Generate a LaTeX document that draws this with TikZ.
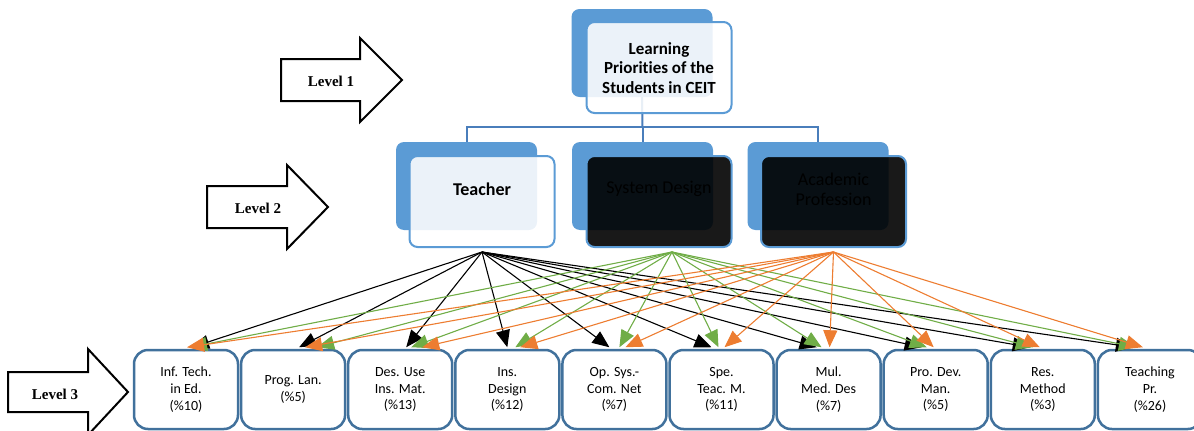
\documentclass[tikz,border=0pt]{standalone}
\usepackage{fontspec}
\setmainfont{Carlito}[RawFeature={-liga;-clig;-calt}]
\newfontfamily\lvlfont{Liberation Serif}
\usetikzlibrary{arrows.meta}
\definecolor{sablue}{HTML}{5B9BD5}
\definecolor{lineblue}{HTML}{4A7EBB}
\definecolor{boxblue}{HTML}{41719C}
\definecolor{agreen}{HTML}{70AD47}
\definecolor{aorange}{HTML}{ED7D31}
\begin{document}
\begin{tikzpicture}[x=1pt,y=-1pt,
  lvlarrow/.style={draw=black,fill=white,line width=2pt,line join=miter},
  lvltext/.style={font=\lvlfont\bfseries\fontsize{15}{17}\selectfont,inner sep=0pt},
  backbox/.style={fill=sablue,draw=none,rounded corners=8pt,minimum width=141pt,minimum height=88pt,inner sep=0pt},
  frontbox/.style={fill=white,fill opacity=0.88,draw=sablue,line width=2pt,rounded corners=8pt,minimum width=145pt,minimum height=91pt,inner sep=0pt},
  darkbox/.style={fill=black,fill opacity=0.9,draw=sablue,line width=2pt,rounded corners=8pt,minimum width=145pt,minimum height=91pt,inner sep=0pt},
  hier/.style={draw=lineblue,line width=2pt},
  l2text/.style={font=\fontsize{18}{20}\selectfont,align=center,inner sep=0pt},
  l3box/.style={draw=boxblue,line width=2.5pt,fill=white,rounded corners=14pt,minimum width=104pt,minimum height=79pt,inner sep=0pt,align=center,font=\fontsize{14}{16.8}\selectfont},
  conn/.style={line width=1.1pt,-{Triangle[length=17pt,width=14pt]}}
]
\useasboundingbox (0,0) rectangle (1194,431);
\clip (0,0) rectangle (1194,431);

% level arrows
\draw[lvlarrow] (281,59) -- (360,59) -- (360,38) -- (402,80) -- (360,122) -- (360,101) -- (281,101) -- cycle;
\node[lvltext] (lv1) at (331,81) {Level 1};
\draw[lvlarrow] (207,186) -- (287,186) -- (287,165) -- (328,207) -- (287,249) -- (287,228) -- (207,228) -- cycle;
\node[lvltext] (lv2) at (258,208) {Level 2};
\draw[lvlarrow] (8,372) -- (88,372) -- (88,349) -- (128,392) -- (88,435) -- (88,412) -- (8,412) -- cycle;
\node[lvltext] (lv3) at (55,394) {Level 3};

% back boxes
\node[backbox] (topback) at (642,53) {};
\node[backbox] (tback) at (466.5,186) {};
\node[backbox] (sback) at (642.5,186) {};
\node[backbox] (aback) at (818,186) {};

% hierarchy lines
\coordinate (hj) at (642.5,127);
\draw[hier] (topback.south) -- (hj);
\draw[hier] (hj) -| (tback.north);
\draw[hier] (hj) -- (sback.north);
\draw[hier] (hj) -| (aback.north);

% front boxes
\node[frontbox] (topfront) at (659,67.5) {};
\node[font=\bfseries\fontsize{17}{19.5}\selectfont,align=center,inner sep=0pt] (toptext) at (659,68) {Learning\\Priorities of the\\Students in CEIT};
\node[frontbox] (tfront) at (482,201.5) {};
\node[darkbox] (sfront) at (659,201.5) {};
\node[darkbox] (afront) at (833.5,201.5) {};
\node[l2text,font=\bfseries\fontsize{18}{20}\selectfont] (ttext) at (482,189) {Teacher};
\node[l2text] (stext) at (659,189) {System Design};
\node[l2text] (atext) at (833.5,189) {Academic\\Profession};

% level 3 boxes
\node[l3box] (b0) at (186,389.5) {Inf. Tech.\\in Ed.\\(\%10)};
\node[l3box] (b1) at (293.1,389.5) {Prog. Lan.\\(\%5)};
\node[l3box] (b2) at (400.2,389.5) {Des. Use\\Ins. Mat.\\(\%13)};
\node[l3box] (b3) at (507.3,389.5) {Ins.\\Design\\(\%12)};
\node[l3box] (b4) at (614.4,389.5) {Op. Sys.-\\Com. Net\\(\%7)};
\node[l3box] (b5) at (721.5,389.5) {Spe.\\Teac. M.\\(\%11)};
\node[l3box] (b6) at (828.6,389.5) {Mul.\\Med. Des\\(\%7)};
\node[l3box] (b7) at (935.7,389.5) {Pro. Dev.\\Man.\\(\%5)};
\node[l3box] (b8) at (1042.8,389.5) {Res.\\Method\\(\%3)};
\node[l3box] (b9) at (1149.9,389.5) {Teaching\\Pr.\\(\%26)};

% connectors
\foreach \k/\dx in {0/6,1/6,2/6,3/0,4/-5,5/-10,6/-12,7/-14,8/-13,9/-17}
  \draw[conn,black] ([yshift=-4pt]tfront.south) -- ([xshift=\dx pt,yshift=1.5pt]b\k.north);
\foreach \k/\dx in {0/4,1/24,2/11,3/8,4/5,5/-3,6/-7,7/-9,8/-10,9/-14}
  \draw[conn,agreen] ([xshift=13pt,yshift=-4pt]sfront.south) -- ([xshift=\dx pt,yshift=1.5pt]b\k.north);
\foreach \k/\dx in {0/1,1/12,2/22,3/13,4/11,5/3,6/1,7/-2,8/-3,9/-7}
  \draw[conn,aorange] ([yshift=-4pt]afront.south) -- ([xshift=\dx pt,yshift=1.5pt]b\k.north);
\end{tikzpicture}
\end{document}
